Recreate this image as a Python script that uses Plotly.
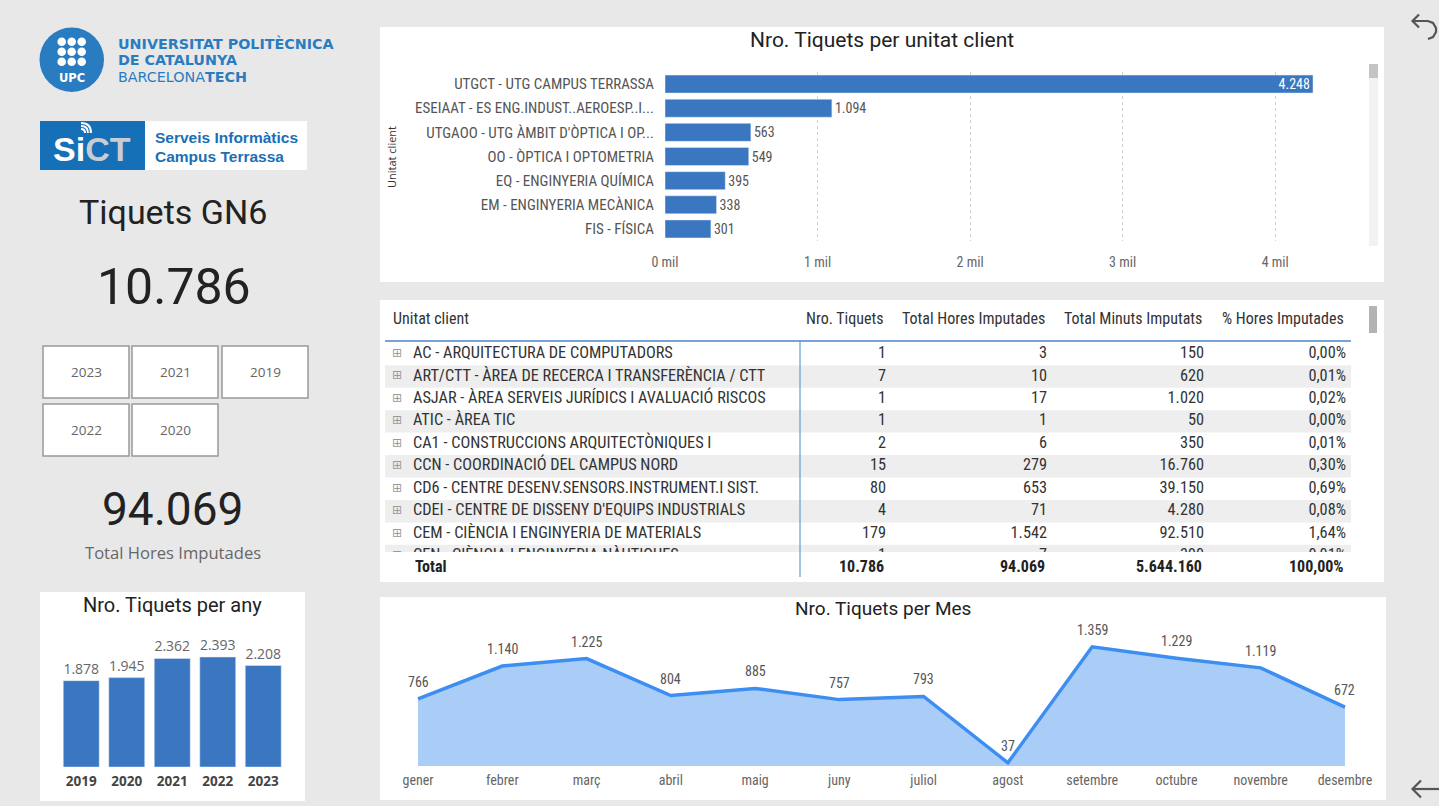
import plotly.graph_objects as go

W, H = 1439, 806
def px(x): return x / W
def py(y): return 1 - y / H

# ---------------- data ----------------
unit_names = ["UTGCT - UTG CAMPUS TERRASSA", "ESEIAAT - ES ENG.INDUST..AEROESP..I...",
              "UTGAOO - UTG ÀMBIT D'ÒPTICA I OP...", "OO - ÒPTICA I OPTOMETRIA",
              "EQ - ENGINYERIA QUÍMICA", "EM - ENGINYERIA MECÀNICA", "FIS - FÍSICA"]
unit_tickets = [4248, 1094, 563, 549, 395, 338, 301]
unit_ticks = [0, 1000, 2000, 3000, 4000]

years = ["2019", "2020", "2021", "2022", "2023"]
year_tickets = [1878, 1945, 2362, 2393, 2208]

months = ["gener", "febrer", "març", "abril", "maig", "juny", "juliol", "agost",
          "setembre", "octubre", "novembre", "desembre"]
month_tickets = [766, 1140, 1225, 804, 885, 757, 793, 37, 1359, 1229, 1119, 672]

table_headers = ["Unitat client", "Nro. Tiquets", "Total Hores Imputades",
                 "Total Minuts Imputats", "% Hores Imputades"]
table_units = ["AC - ARQUITECTURA DE COMPUTADORS",
               "ART/CTT - ÀREA DE RECERCA I TRANSFERÈNCIA / CTT",
               "ASJAR - ÀREA SERVEIS JURÍDICS I AVALUACIÓ RISCOS",
               "ATIC - ÀREA TIC",
               "CA1 - CONSTRUCCIONS ARQUITECTÒNIQUES I",
               "CCN - COORDINACIÓ DEL CAMPUS NORD",
               "CD6 - CENTRE DESENV.SENSORS.INSTRUMENT.I SIST.",
               "CDEI - CENTRE DE DISSENY D'EQUIPS INDUSTRIALS",
               "CEM - CIÈNCIA I ENGINYERIA DE MATERIALS",
               "CEN - CIÈNCIA I ENGINYERIA NÀUTIQUES"]
table_tickets = [1, 7, 1, 1, 2, 15, 80, 4, 179, 1]
table_hores = [3, 10, 17, 1, 6, 279, 653, 71, 1542, 7]
table_minuts = [150, 620, 1020, 50, 350, 16760, 39150, 4280, 92510, 390]
table_pct = [0.00, 0.01, 0.02, 0.00, 0.01, 0.30, 0.69, 0.08, 1.64, 0.01]
total_tickets, total_hores, total_minuts, total_pct = 10786, 94069, 5644160, 100.00

slicer_years = ["2023", "2021", "2019", "2022", "2020"]
kpi_title = "Tiquets GN6"
kpi_tickets = 10786
kpi_hores = 94069
kpi_hores_label = "Total Hores Imputades"

# ---------------- style ----------------
BG = "#e8e8e8"
BAR = "#3a77c0"
LINE = "#3d8ef2"
FILL = "#aacdf7"
COND = "Liberation Sans Narrow, Roboto Condensed, DejaVu Sans Condensed, Roboto, sans-serif"
TITLE = "Roboto, DejaVu Sans, sans-serif"
UI = "Open Sans, Noto Sans, sans-serif"
ARIAL = "Liberation Sans, Arial, sans-serif"
WIDE = "DejaVu Sans, Liberation Sans, sans-serif"

def fmt(n):
    return f"{n:,}".replace(",", ".")

def fmtp(v):
    return f"{v:.2f}%".replace(".", ",")

fig = go.Figure()

# top horizontal bar chart
fig.add_trace(go.Bar(
    y=unit_names, x=unit_tickets, orientation="h", marker_color=BAR, width=0.745,
    text=[fmt(v) for v in unit_tickets],
    textposition=["inside"] + ["outside"] * (len(unit_tickets) - 1),
    insidetextanchor="end", textangle=0,
    insidetextfont=dict(color="white", size=14, family=COND),
    outsidetextfont=dict(color="#555", size=14, family=COND),
    cliponaxis=False, hoverinfo="skip", xaxis="x", yaxis="y"))

# year bar chart
fig.add_trace(go.Bar(
    x=years, y=year_tickets, marker_color=BAR, width=0.79,
    text=[fmt(v) for v in year_tickets], textposition="outside", textangle=0,
    outsidetextfont=dict(color="#666", size=14, family=UI),
    cliponaxis=False, hoverinfo="skip", xaxis="x2", yaxis="y2"))

# month area chart
fig.add_trace(go.Scatter(
    x=months, y=month_tickets, mode="lines", line=dict(color=LINE, width=3.5),
    fill="tozeroy", fillcolor=FILL, hoverinfo="skip", xaxis="x3", yaxis="y3"))

# table body
ROW_Y0, ROW_H = 354, 22.45
BODY_TOP, BODY_BOT = 343, 552
COL_RIGHT = [886, 1047, 1204, 1346]
NAME_X, ICON_X = 413, 397
rows = list(range(len(table_units)))
tfont = dict(family=COND, size=16.3, color="#333")
fig.add_trace(go.Scatter(x=[ICON_X] * len(rows), y=rows, mode="text", text=["⊞"] * len(rows),
                         textposition="middle center", textfont=dict(size=12, color="#999", family="DejaVu Sans"),
                         cliponaxis=True, hoverinfo="skip", xaxis="x4", yaxis="y4"))
fig.add_trace(go.Scatter(x=[NAME_X] * len(rows), y=rows, mode="text", text=table_units,
                         textposition="middle right", textfont=tfont,
                         cliponaxis=True, hoverinfo="skip", xaxis="x4", yaxis="y4"))
for cx, col in zip(COL_RIGHT, [[fmt(v) for v in table_tickets], [fmt(v) for v in table_hores],
                               [fmt(v) for v in table_minuts], [fmtp(v) for v in table_pct]]):
    fig.add_trace(go.Scatter(x=[cx] * len(rows), y=rows, mode="text", text=col,
                             textposition="middle left", textfont=tfont,
                             cliponaxis=True, hoverinfo="skip", xaxis="x4", yaxis="y4"))

shapes = []
ann = []

def rect(x0, y0, x1, y1, fill, line=None, lw=0):
    shapes.append(dict(type="rect", xref="paper", yref="paper", x0=px(x0), x1=px(x1),
                       y0=py(y1), y1=py(y0), fillcolor=fill,
                       line=dict(color=line or fill, width=lw), layer="below"))

def seg(x0, y0, x1, y1, color, w):
    shapes.append(dict(type="line", xref="paper", yref="paper", x0=px(x0), x1=px(x1),
                       y0=py(y0), y1=py(y1), line=dict(color=color, width=w)))

def path(points, color, w):
    d = "M " + " L ".join(f"{px(a):.5f},{py(b):.5f}" for a, b in points)
    shapes.append(dict(type="path", xref="paper", yref="paper", path=d,
                       line=dict(color=color, width=w)))

def text(x, y, s, size, color="#333", family=UI, xanchor="center", weight="normal", angle=0):
    ann.append(dict(x=px(x), y=py(y), xref="paper", yref="paper", text=s, showarrow=False,
                    xanchor=xanchor, yanchor="middle", textangle=angle,
                    font=dict(size=size, color=color, family=family, weight=weight)))

# panels
rect(380, 27, 1384, 282, "white")
rect(380, 300, 1384, 582, "white")
rect(380, 597, 1386, 800, "white")
rect(40, 592, 305, 801, "white")

# scrollbars
rect(1369, 64, 1378, 246, "#f2f2f2")
rect(1369, 64, 1378, 78, "#c4c4c4")
rect(1369, 306, 1377, 333, "#b3b3b3")

# table bands
for i in rows:
    if i % 2 == 1:
        yc = ROW_Y0 + ROW_H * i
        y0, y1 = yc - ROW_H / 2, min(yc + ROW_H / 2, BODY_BOT)
        rect(385, y0, 1351, y1, "#eeeeee")

seg(385, 341, 1351, 341, "#4a86c8", 1.5)
seg(800, 341, 800, 577, "#4a86c8", 1)

# table header and totals
text(391, 318, table_headers[0], 16, "#333", COND, "left")
for cx, h in zip(COL_RIGHT, table_headers[1:]):
    text(cx, 318, h, 16, "#333", COND, "right")
text(NAME_X, 566, "Total", 16, "#222", COND, "left", "bold")
for cx, v in zip(COL_RIGHT, [fmt(total_tickets), fmt(total_hores), fmt(total_minuts), fmtp(total_pct)]):
    text(cx, 566, v, 16, "#222", COND, "right", "bold")

# titles
text(882, 40, "Nro. Tiquets per unitat client", 21, "#222", TITLE)
text(172, 605, "Nro. Tiquets per any", 20, "#222", TITLE)
text(883, 608, "Nro. Tiquets per Mes", 19, "#222", TITLE)
text(391, 157, "Unitat client", 11, "#333", UI, angle=-90)

# month labels
for m, v in zip(months, month_tickets):
    ann.append(dict(x=m, y=v, xref="x3", yref="y3", text=fmt(v), showarrow=False, yshift=17,
                    font=dict(size=14, color="#555", family=COND)))

# UPC logo
UPC = "#2a7cc1"
shapes.append(dict(type="circle", xref="paper", yref="paper", x0=px(39.5), x1=px(104),
                   y0=py(92), y1=py(27.5), fillcolor=UPC, line=dict(width=0)))
for cy in (41.7, 51.7, 61.7):
    for cx in (61.7, 71.7, 81.7):
        shapes.append(dict(type="circle", xref="paper", yref="paper", x0=px(cx - 4.3),
                           x1=px(cx + 4.3), y0=py(cy + 4.3), y1=py(cy - 4.3),
                           fillcolor="white", line=dict(width=0)))
text(72, 78.5, "UPC", 11.5, "white", WIDE, weight="bold")
text(116, 43, "UNIVERSITAT POLITÈCNICA", 14.3, UPC, WIDE, "left", "bold")
text(116, 60, "DE CATALUNYA", 14.3, UPC, WIDE, "left", "bold")
text(116, 77, "BARCELONA<b>TECH</b>", 14.3, UPC, WIDE, "left")

# SICT logo
rect(40, 121, 307, 170, "white")
rect(40, 121, 145, 170, "#1570b8")
text(92, 149, "<span style='color:white'>Si</span><span style='color:#c9cdd1'>CT</span>",
     34, "white", ARIAL, weight="bold")
for r in (4, 7, 10):
    shapes.append(dict(type="path", xref="paper", yref="paper",
                       path=f"M {px(81):.5f},{py(133 - r):.5f} Q {px(81 + r):.5f},{py(133 - r):.5f} {px(81 + r):.5f},{py(133):.5f}",
                       line=dict(color="white", width=2)))
text(153, 137, "Serveis Informàtics", 15.5, "#1a6fb5", ARIAL, "left", "bold")
text(153, 156, "Campus Terrassa", 15.5, "#1a6fb5", ARIAL, "left", "bold")

# KPIs
text(173, 212, kpi_title, 34, "#222", TITLE)
text(174, 287, fmt(kpi_tickets), 50, "#222", TITLE)
text(172, 509, fmt(kpi_hores), 46, "#222", TITLE)
text(173, 552, kpi_hores_label, 16.6, "#666", UI)

# slicer
slots = [(43, 346), (132, 346), (222, 346), (43, 404), (132, 404)]
for (sx, sy), yr in zip(slots, slicer_years):
    rect(sx, sy, sx + 86, sy + 52, "white", "#999", 1.5)
    text(sx + 43, sy + 26, yr, 13.5, "#666", UI)

# navigation arrows
path([(1413, 21), (1428, 21), (1433, 23), (1436, 28), (1436, 32), (1433, 37), (1428, 39)], "#555", 2.2)
path([(1419, 14.5), (1412.5, 21), (1419, 27.5)], "#555", 2.2)
path([(1413, 789), (1439, 789)], "#555", 2.2)
path([(1421, 780.5), (1412.5, 789), (1421, 797.5)], "#555", 2.2)

fig.update_layout(
    width=W, height=H, margin=dict(l=0, r=0, t=0, b=0, autoexpand=False),
    paper_bgcolor=BG, plot_bgcolor="rgba(0,0,0,0)", showlegend=False,
    separators=",.", shapes=shapes, annotations=ann, hovermode=False,
    uniformtext=dict(minsize=14, mode="show"),
    xaxis=dict(domain=[px(665), px(1360)], anchor="y", range=[0, 4556], tickvals=unit_ticks,
               ticktext=[f"{v // 1000} mil" for v in unit_ticks], showgrid=True,
               gridcolor="#cfcfcf", griddash="dot", gridwidth=1, zeroline=False,
               showline=False, tickfont=dict(size=14, color="#666", family=COND),
               ticklabelstandoff=11, automargin=False, fixedrange=True),
    yaxis=dict(domain=[py(241), py(72)], anchor="x", type="category", range=[6.5, -0.5],
               showgrid=False, zeroline=False, showline=False,
               tickfont=dict(size=15, color="#555", family=COND),
               ticklabelstandoff=10, automargin=False, fixedrange=True),
    xaxis2=dict(domain=[px(58.5), px(286)], anchor="y2", type="category", showgrid=False,
                zeroline=False, showline=False, ticklabelstandoff=4, automargin=False,
                tickfont=dict(size=13.5, color="#444", family=UI, weight="bold"), fixedrange=True),
    yaxis2=dict(domain=[py(767), py(640)], anchor="x2", range=[0, 2763], visible=False,
                automargin=False, fixedrange=True),
    xaxis3=dict(domain=[px(415.5), px(1347.5)], anchor="y3", type="category", range=[-0.03, 11.03],
                showgrid=False, zeroline=False, showline=False, ticklabelstandoff=4,
                automargin=False, tickfont=dict(size=14, color="#666", family=COND), fixedrange=True),
    yaxis3=dict(domain=[py(766), py(640)], anchor="x3", range=[0, 1437], visible=False,
                automargin=False, fixedrange=True),
    xaxis4=dict(domain=[0, 1], anchor="y4", range=[0, W], visible=False, automargin=False,
                fixedrange=True),
    yaxis4=dict(domain=[py(BODY_BOT), py(BODY_TOP)], anchor="x4",
                range=[(BODY_BOT - ROW_Y0) / ROW_H, (BODY_TOP - ROW_Y0) / ROW_H],
                visible=False, automargin=False, fixedrange=True),
)

fig.write_html("out.html", config={"displayModeBar": False},
               post_script="document.body.style.margin='0';document.body.style.overflow='hidden';")
